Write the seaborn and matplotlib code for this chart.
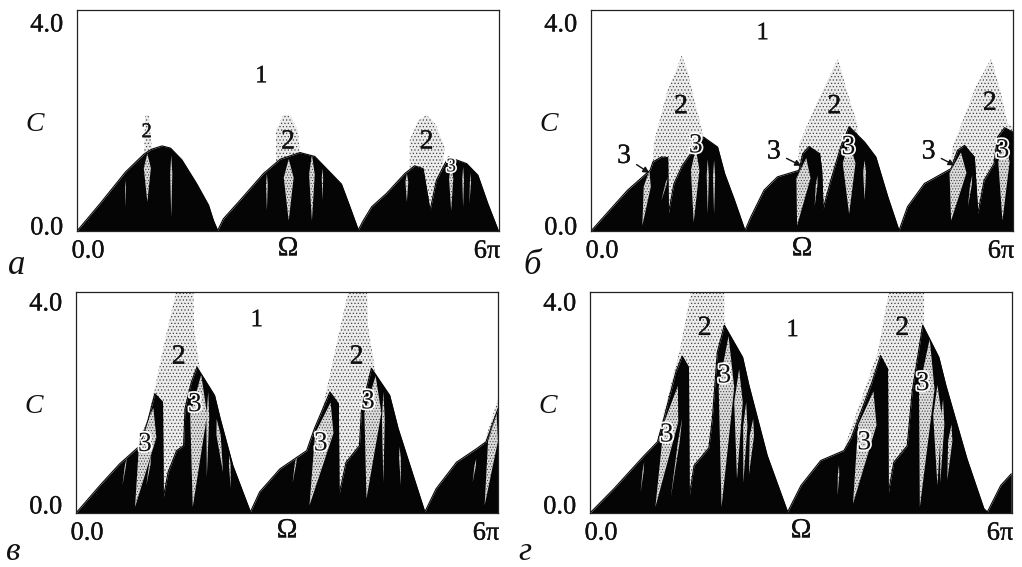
import matplotlib
matplotlib.use('Agg')
import matplotlib.pyplot as plt
import matplotlib.patheffects as pe
import matplotlib.transforms as mtrans
import seaborn as sns

# Omega in units of pi, C on the y axis
# panel a
black_a_x = [0, .33, .69, .95, 1.06, 1.21, 1.33, 1.49, 1.70, 1.87, 1.94, 2.00, 2.08, 2.32, 2.65, 2.89, 3.17, 3.38, 3.57, 3.76, 3.88, 4.00, 4.07, 4.19, 4.40, 4.66, 4.80, 4.92, 5.02, 5.11, 5.28, 5.54, 5.70, 5.84, 5.99]
black_a_y = [0, .50, 1.07, 1.39, 1.48, 1.54, 1.50, 1.29, .86, .47, .19, .01, .22, .56, 1.04, 1.30, 1.42, 1.35, 1.10, .85, .44, .02, .19, .44, .68, 1.04, 1.18, 1.13, .37, .92, 1.34, 1.22, 1.01, .50, .01]
gray_a_x = [.95, .97, 1.02, 1.07, 1.08, 2.82, 2.83, 2.83, 2.93, 3.03, 3.14, 3.17, 3.18, 4.72, 4.73, 4.73, 4.85, 4.97, 5.09, 5.23, 5.20, 5.21]
gray_a_y = [1.30, 2.10, 2.10, 1.40, 0, 0, 1.34, 1.82, 2.10, 2.10, 1.82, 1.43, 0, 0, 1.22, 1.64, 2.00, 2.10, 1.95, 1.52, 1.22, 0]
crack_a_xt = [1.00, 1.34, .69, 2.70, 3.01, 3.34, 3.49, 4.69, 5.32, 5.49, 5.60]
crack_a_top = [1.40, 1.37, .92, 1.04, 1.30, 1.38, 1.13, 1.04, 1.20, 1.16, 1.05]
crack_a_xb = [1.00, 1.34, .69, 2.70, 3.01, 3.34, 3.49, 4.69, 5.32, 5.49, 5.58]
crack_a_bot = [.53, .25, .43, .37, .19, .19, .56, .53, .37, .43, .50]
crack_a_w = [.05, .015, .006, .012, .07, .04, .01, .02, .03, .012, .008]

# panel b
black_b_x = [0, .28, .52, .76, .84, .88, 1.00, 1.09, 1.10, 1.18, 1.30, 1.40, 1.52, 1.60, 1.80, 1.90, 2.04, 2.19, 2.27, 2.46, 2.65, 2.96, 3.01, 3.10, 3.25, 3.28, 3.30, 3.41, 3.55, 3.67, 3.89, 4.05, 4.22, 4.38, 4.50, 4.74, 5.12, 5.21, 5.31, 5.45, 5.47, 5.50, 5.59, 5.73, 5.78, 5.88, 6.0]
black_b_y = [0, .40, .74, 1.01, 1.10, 1.25, 1.34, 1.33, .31, .86, 1.19, 1.37, 1.58, 1.70, 1.52, 1.04, .56, .01, .25, .74, .98, 1.10, 1.40, 1.53, 1.40, 1.10, .40, .92, 1.52, 1.89, 1.61, 1.34, .62, .01, .44, .86, 1.13, 1.46, 1.55, 1.34, .92, .31, .92, 1.22, 1.70, 1.87, 1.79]
gray_b_x = [.88, .90, 1.09, 1.21, 1.29, 1.37, 1.47, 1.59, 1.63, 1.64, 2.93, 2.94, 2.96, 3.25, 3.51, 3.65, 3.79, 3.80, 5.11, 5.12, 5.14, 5.47, 5.69, 5.83, 5.92, 6.0]
gray_b_y = [1.28, 1.64, 2.55, 2.91, 3.18, 2.91, 2.37, 1.76, 1.64, 0, 0, 1.10, 1.58, 2.43, 3.12, 2.49, 1.92, 0, 0, 1.16, 1.52, 2.61, 3.12, 2.49, 1.95, 1.88]
crack_b_xt = [.83, 1.49, 1.66, 3.06, 3.67, 5.26, 5.88, 3.89, 1.75, 1.10, 3.22, 5.42]
crack_b_top = [1.10, 1.50, 1.30, 1.32, 1.62, 1.42, 1.70, 1.28, 1.28, 1.00, 1.00, 1.00]
crack_b_xb = [.73, 1.46, 1.66, 2.93, 3.67, 5.12, 5.85, 3.89, 1.75, 1.00, 3.18, 5.36]
crack_b_bot = [.10, .16, .31, .10, .31, .19, .19, .56, .31, .55, .45, .45]
crack_b_w = [.05, .06, .015, .10, .09, .12, .08, .02, .015, .01, .012, .012]

# panel v
black_v_x = [0, .34, .62, .91, 1.03, 1.12, 1.23, 1.24, 1.31, 1.43, 1.53, 1.55, 1.64, 1.72, 1.97, 2.05, 2.23, 2.48, 2.61, 2.90, 3.28, 3.39, 3.61, 3.73, 3.74, 3.84, 4.03, 4.06, 4.20, 4.46, 4.58, 4.96, 5.12, 5.41, 5.69, 5.83, 6.0]
black_v_y = [0, .50, .89, 1.22, 1.71, 2.16, 2.01, .26, .74, 1.13, 1.22, 1.89, 2.37, 2.64, 2.13, 1.71, .86, .02, .38, .80, 1.13, 1.53, 2.19, 1.98, .33, .92, 1.22, 1.89, 2.62, 2.13, 1.53, .02, .44, .92, 1.16, 1.29, 1.89]
gray_v_x = [1.00, 1.12, 1.26, 1.41, 1.41, 1.67, 1.68, 1.76, 1.77, 3.46, 3.47, 3.70, 3.87, 4.14, 4.15, 4.25, 4.26, 5.78, 5.79, 6.0]
gray_v_y = [1.59, 2.25, 3.10, 3.94, 4.0, 4.0, 3.34, 2.61, 0, 0, 1.71, 3.03, 4.0, 4.0, 3.40, 2.61, 0, 0, 1.22, 2.07]
crack_v_xt = [1.10, 1.07, 1.78, 1.88, 2.00, 3.62, 4.26, 4.37, 5.98, 5.69, .72, 3.14, 2.18, 4.60]
crack_v_top = [1.90, 1.04, 2.50, 2.19, 1.70, 2.00, 2.48, 2.19, 1.80, .98, 1.00, 1.05, 1.05, 1.20]
crack_v_xb = [.84, 1.00, 1.66, 1.86, 2.09, 3.32, 4.13, 4.37, 5.81, 5.64, .66, 3.08, 2.20, 4.62]
crack_v_bot = [.11, .50, .11, .65, .74, .14, .26, .56, .14, .56, .50, .55, .45, .50]
crack_v_w = [.12, .01, .12, .02, .03, .13, .12, .02, .07, .01, .008, .01, .012, .012]

# panel g
black_g_x = [0, .34, .77, .96, 1.05, 1.22, 1.31, 1.40, 1.41, 1.48, 1.69, 1.74, 1.81, 1.91, 2.17, 2.26, 2.52, 2.81, 3.00, 3.28, 3.61, 3.71, 4.01, 4.13, 4.23, 4.24, 4.32, 4.51, 4.58, 4.73, 4.96, 5.06, 5.36, 5.60, 5.65, 5.84, 5.99]
black_g_y = [0, .44, 1.04, 1.29, 1.71, 2.55, 2.84, 2.64, .29, .86, 1.18, 1.71, 2.91, 3.40, 2.82, 2.31, 1.04, .02, .50, .95, 1.13, 1.35, 2.37, 2.85, 2.61, .35, .92, 1.22, 2.19, 3.40, 2.82, 2.31, .98, .08, .02, .50, .71]
gray_g_x = [.96, 1.29, 1.43, 1.43, 1.91, 1.91, 1.93, 1.94, 3.60, 3.61, 4.09, 4.25, 4.75, 4.75, 4.76]
gray_g_y = [1.35, 3.03, 3.97, 4.0, 4.0, 3.52, 3.37, 0, 0, 1.16, 2.91, 4.0, 4.0, 3.40, 0]
crack_g_xt = [1.25, 1.97, 2.12, 4.03, 4.83, 4.94, .77, 3.54, 1.31, 2.22, 2.32, 5.02, 5.14]
crack_g_top = [2.30, 3.20, 2.60, 2.20, 3.15, 2.31, .92, .86, 1.71, 2.00, 1.70, 2.05, 1.60]
crack_g_xb = [.93, 1.87, 2.09, 3.74, 4.69, 4.94, .72, 3.52, 1.15, 2.18, 2.26, 4.98, 5.08]
crack_g_bot = [.11, .11, .62, .17, .11, .50, .38, .32, .29, .55, .70, .55, .60]
crack_g_w = [.10, .11, .06, .13, .11, .06, .008, .01, .012, .03, .03, .03, .03]

# region labels
labels_a = [('1', 2.62, 2.80, 18), ('2', .99, 1.78, 15), ('2', 3.0, 1.61, 20), ('2', 4.97, 1.61, 20), ('3', 5.32, 1.16, 14)]
labels_b = [('1', 2.44, 3.58, 18), ('2', 1.28, 2.25, 20), ('2', 3.46, 2.25, 20), ('2', 5.67, 2.31, 20),
            ('3', 1.49, 1.54, 20), ('3', 3.66, 1.51, 20), ('3', 5.85, 1.45, 20)]
labels_v = [('1', 2.57, 3.49, 18), ('2', 1.46, 2.82, 20), ('2', 3.99, 2.82, 20), ('3', .98, 1.24, 20),
            ('3', 1.69, 1.96, 20), ('3', 3.48, 1.25, 20), ('3', 4.15, 2.01, 20)]
labels_g = [('1', 2.88, 3.31, 18), ('2', 1.63, 3.34, 20), ('2', 4.44, 3.34, 20), ('3', 1.09, 1.41, 20),
            ('3', 1.91, 2.48, 20), ('3', 3.90, 1.27, 20), ('3', 4.73, 2.34, 20)]
arrows_b = [(.47, 1.35, .83, 1.05), (2.60, 1.43, 2.99, 1.18), (4.80, 1.43, 5.17, 1.19)]

W, H = 1022, 567
sns.set_theme(style='white')
plt.rcParams['font.family'] = ['Liberation Serif', 'DejaVu Serif']
plt.rcParams['hatch.linewidth'] = 0.5

fig = plt.figure(figsize=(W / 100, H / 100), dpi=100, facecolor='white')
thick = [pe.withStroke(linewidth=0.2, foreground='#111111')]


def shift(label, dx, dy):
    # move a tick label by some pixels
    label.set_transform(label.get_transform() + mtrans.Affine2D().translate(dx, dy))


def draw_panel(box, black_x, black_y, gray_x, gray_y, cracks, labels, letter, letter_pos, letter_size, top_dy, bot_dy):
    left, top, right, bottom = box
    ax = fig.add_axes([left / W, 1 - bottom / H, (right - left) / W, (bottom - top) / H])
    ax.fill_between(gray_x, 0, gray_y, facecolor='#ececec', edgecolor='#444444', hatch='.....', linewidth=0)
    ax.fill_between(black_x, 0, black_y, color='#050505', linewidth=0)
    sns.lineplot(x=black_x, y=black_y, sort=False, estimator=None, color='#050505', linewidth=0.8, ax=ax)
    # light streaks inside the black region, pointed at both ends
    for xt, yt, xb, yb, w in zip(*cracks):
        xm = xt + (xb - xt) * 0.3
        ym = yt + (yb - yt) * 0.3
        ax.fill([xt, xm + w, xb, xm - w], [yt, ym, yb, ym], facecolor='#dcdcdc', edgecolor='#444444',
                hatch='......', linewidth=0)
    for txt, x, y, size in labels:
        if txt == '3':
            effects = [pe.withStroke(linewidth=2.5, foreground='white')]
        else:
            effects = thick
        ax.text(x, y, txt, fontsize=size, ha='center', va='center', color='#111111', path_effects=effects)
    ax.set_xlim(0, 6)
    ax.set_ylim(0, 4)
    ax.set_xticks([0, 6], ['0.0', '6π'], fontsize=19, color='#111111')
    ax.set_yticks([0, 4], ['0.0', '4.0'], fontsize=19, color='#111111')
    ax.tick_params(length=0, pad=7)
    ax.tick_params(axis='y', pad=10)
    xlab = ax.get_xticklabels()
    shift(xlab[0], 11, 0)
    shift(xlab[1], -12, 0)
    ylab = ax.get_yticklabels()
    shift(ylab[0], 0, bot_dy)
    shift(ylab[1], 0, -top_dy)
    plt.setp(xlab + ylab, path_effects=thick)
    ax.set_xlabel('Ω', fontsize=20, va='center', color='#111111', path_effects=thick)
    ax.xaxis.set_label_coords(0.5, -0.081)
    ax.set_ylabel('C', fontsize=20, fontstyle='italic', rotation=0, va='center', ha='center', color='#111111')
    ax.yaxis.set_label_coords(-0.1, 0.484)
    for s in ax.spines.values():
        s.set_visible(True)
        s.set_linewidth(0.9)
        s.set_color('#222222')
    fig.text(letter_pos[0] / W, 1 - letter_pos[1] / H, letter, fontsize=letter_size, fontstyle='italic',
             ha='center', va='baseline', color='#111111')
    return ax


draw_panel((77, 10, 499, 231), black_a_x, black_a_y, gray_a_x, gray_a_y,
           (crack_a_xt, crack_a_top, crack_a_xb, crack_a_bot, crack_a_w), labels_a, 'а', (17, 274), 25, 13, 5)
ax_b = draw_panel((591, 10, 1013, 231), black_b_x, black_b_y, gray_b_x, gray_b_y,
                  (crack_b_xt, crack_b_top, crack_b_xb, crack_b_bot, crack_b_w), labels_b, 'б', (532, 274), 25, 13, 5)
draw_panel((76, 292, 498, 513), black_v_x, black_v_y, gray_v_x, gray_v_y,
           (crack_v_xt, crack_v_top, crack_v_xb, crack_v_bot, crack_v_w), labels_v, 'в', (13, 560), 24, 10, 8)
draw_panel((590, 292, 1012, 513), black_g_x, black_g_y, gray_g_x, gray_g_y,
           (crack_g_xt, crack_g_top, crack_g_xb, crack_g_bot, crack_g_w), labels_g, 'г', (525, 560), 24, 10, 8)

for x0, y0, x1, y1 in arrows_b:
    ax_b.annotate('3', xy=(x1, y1), xytext=(x0, y0), fontsize=20, ha='center', va='center', color='#111111',
                  path_effects=thick,
                  arrowprops=dict(arrowstyle='-|>', color='#111111', lw=1, mutation_scale=9, shrinkA=2, shrinkB=0))

fig.savefig('out.png', dpi=100)
